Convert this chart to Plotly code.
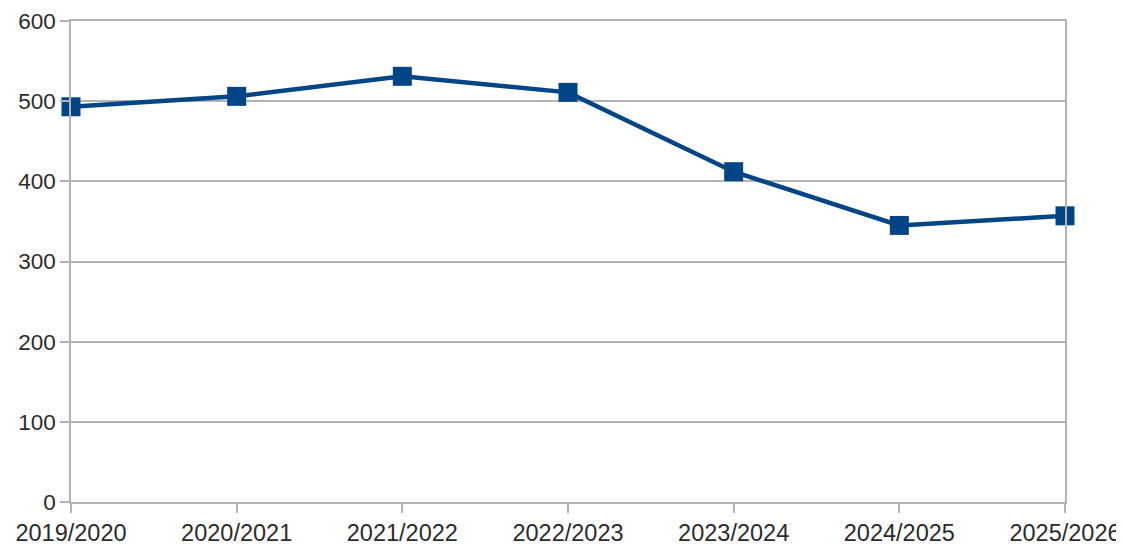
import plotly.graph_objects as go

categories = ["2019/2020", "2020/2021", "2021/2022", "2022/2023", "2023/2024", "2024/2025", "2025/2026"]
values = [493, 506, 531, 511, 412, 345, 357]
y_ticks = [0, 100, 200, 300, 400, 500, 600]

# The page body has an 8px default margin, so the figure is sized to fit the window.
fig = go.Figure()
fig.add_trace(go.Scatter(
    x=categories, y=values, mode="lines+markers",
    line=dict(color="#004586", width=4.5),
    marker=dict(symbol="square", size=19, color="#004586"),
    cliponaxis=False,
    showlegend=False,
))

fig.update_layout(
    width=1116, height=540,
    margin=dict(l=63, r=59, t=13, b=46, autoexpand=False),
    paper_bgcolor="white", plot_bgcolor="white",
    font=dict(family="Liberation Sans, Arial, sans-serif", size=23.5, color="#2b2b2b"),
)
fig.update_xaxes(
    type="category", range=[0, len(categories) - 1], automargin=False,
    ticklabeloverflow="allow",
    showgrid=False, showline=True, linecolor="#b3b3b3", linewidth=1.5, mirror=True,
    ticks="outside", ticklen=9, tickcolor="#b3b3b3", tickwidth=1.5,
)
fig.update_yaxes(
    range=[0, 600], tickvals=y_ticks, automargin=False,
    ticklabeloverflow="allow", tickfont=dict(size=22.5),
    showgrid=True, gridcolor="#b3b3b3", gridwidth=1.5,
    showline=True, linecolor="#b3b3b3", linewidth=1.5, mirror=True,
    ticks="outside", ticklen=9, tickcolor="#b3b3b3", tickwidth=1.5,
    zeroline=False,
)
fig.write_html("out.html")
